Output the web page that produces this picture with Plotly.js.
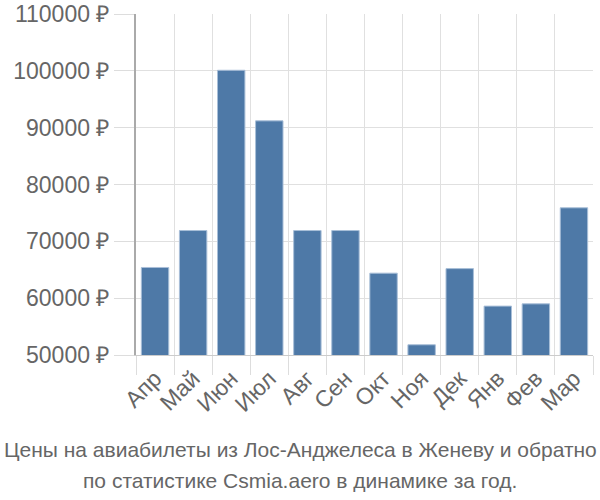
<!DOCTYPE html>
<html><head><meta charset="utf-8">
<script src="https://cdn.plot.ly/plotly-3.0.1.min.js"></script>
<style>html,body{margin:0;padding:0;background:#fff}#chart{width:600px;height:500px}</style>
</head><body><div id="chart"></div>
<script>
const months = ['Апр','Май','Июн','Июл','Авг','Сен','Окт','Ноя','Дек','Янв','Фев','Мар'];
const prices = [65400, 71900, 100100, 91200, 71900, 71900, 64400, 51800, 65200, 58600, 59000, 75900];
const yTicks = [50000, 60000, 70000, 80000, 90000, 100000, 110000];
const yTickText = yTicks.map(v => v + ' ₽');
const captionLines = ['Цены на авиабилеты из Лос-Анджелеса в Женеву и обратно', 'по статистике Csmia.aero в динамике за год.'];

const trace = {
  type: 'bar', x: months, y: prices,
  marker: {color: '#4e79a7', line: {color: '#a9bfd8', width: 1}},
  hoverinfo: 'none'
};
const cx = (300 - 136) / (600 - 136 - 7);
const layout = {
  width: 600, height: 500,
  margin: {l: 136, r: 7, t: 14, b: 145},
  paper_bgcolor: '#fff', plot_bgcolor: '#fff',
  font: {family: 'Liberation Sans, Arial, sans-serif', color: '#666', size: 20},
  bargap: 0.28,
  showlegend: false,
  xaxis: {
    type: 'category', tickson: 'boundaries', ticks: 'outside', ticklen: 19, tickcolor: '#ddd', tickwidth: 1,
    showgrid: true, gridcolor: '#e0e0e0', gridwidth: 1,
    showline: true, linecolor: '#ccc', linewidth: 1,
    tickangle: -45, tickfont: {size: 23, color: '#666'}, automargin: false
  },
  yaxis: {
    range: [50000, 110000], tickmode: 'array', tickvals: yTicks, ticktext: yTickText,
    ticks: 'outside', ticklen: 20, tickcolor: '#ddd', tickwidth: 1,
    showgrid: true, gridcolor: '#e0e0e0', gridwidth: 1,
    showline: true, linecolor: '#aaa', linewidth: 2, zeroline: false,
    tickfont: {size: 23, color: '#666'}, automargin: false
  },
  annotations: [
    {xref: 'paper', yref: 'paper', x: cx, y: 0, xanchor: 'center', yanchor: 'middle',
     yshift: -94, text: captionLines[0], showarrow: false,
     font: {family: 'Liberation Sans Narrow, Liberation Sans, Arial, sans-serif', size: 21, color: '#666'}},
    {xref: 'paper', yref: 'paper', x: cx, y: 0, xanchor: 'center', yanchor: 'middle',
     yshift: -125, text: captionLines[1], showarrow: false,
     font: {family: 'Liberation Sans Narrow, Liberation Sans, Arial, sans-serif', size: 21, color: '#666'}}
  ]
};
Plotly.newPlot('chart', [trace], layout, {staticPlot: true, displayModeBar: false});
</script></body></html>
